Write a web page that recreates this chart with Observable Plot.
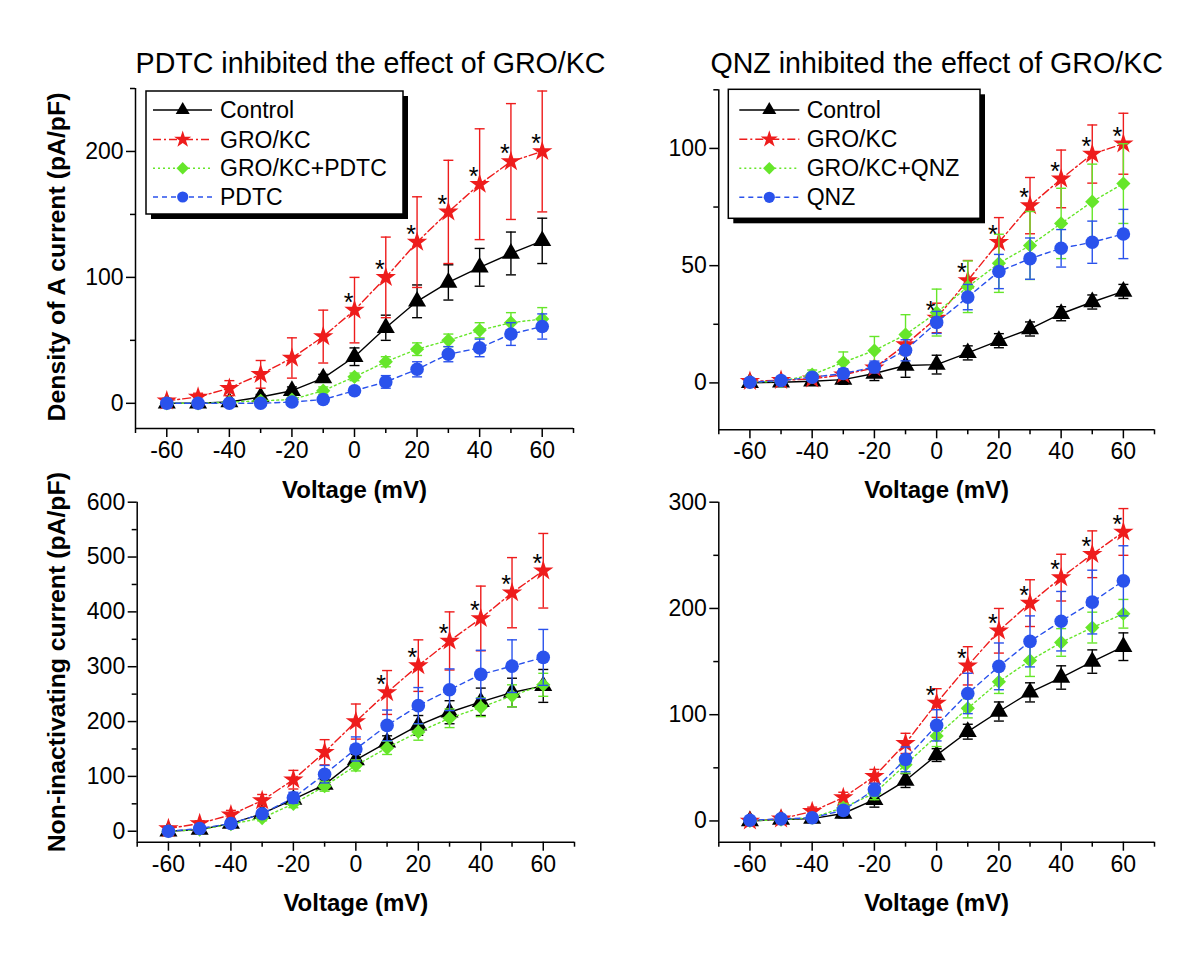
<!DOCTYPE html>
<html>
<head>
<meta charset="utf-8">
<script src="https://cdn.jsdelivr.net/npm/d3@7"></script>
<script src="https://cdn.jsdelivr.net/npm/@observablehq/plot@0.6"></script>
<style>
  body { margin: 0; background: #fff; }
  #wrap { position: relative; width: 1200px; height: 967px; overflow: hidden; background: #fff;
          font-family: "Liberation Sans", Arial, Helvetica, sans-serif; }
  #wrap > svg { position: absolute; }
</style>
</head>
<body>
<div id="wrap"></div>
<script>
// ---------------- data ----------------
const voltage = [-60, -50, -40, -30, -20, -10, 0, 10, 20, 30, 40, 50, 60];

const seriesNamesPDTC = ["Control", "GRO/KC", "GRO/KC+PDTC", "PDTC"];
const seriesNamesQNZ  = ["Control", "GRO/KC", "GRO/KC+QNZ", "QNZ"];

const titlePDTC = "PDTC inhibited the effect of GRO/KC";
const titleQNZ  = "QNZ inhibited the effect of GRO/KC";
const xLabel = "Voltage (mV)";
const yLabelTop = "Density of A current (pA/pF)";
const yLabelBottom = "Non-inactivating current (pA/pF)";

const xDomain = [-70, 70];
const xMajorTicks = [-60, -40, -20, 0, 20, 40, 60];
const xMinorTicks = [-70, -50, -30, -10, 10, 30, 50, 70];

// Panel 1: A current, PDTC
const ctrl1      = [0, 0, 1, 5, 10, 20, 37, 60, 81, 96, 108, 119, 129];
const ctrl1Err   = [1, 1, 1, 2, 3, 3, 7, 10, 13, 14, 15, 17, 18];
const gro1       = [2, 5, 12, 23, 36, 53, 74, 100, 128, 152, 174, 192, 200];
const gro1Err    = [2, 3, 6, 11, 16, 21, 26, 32, 36, 41, 44, 46, 48];
const groPdtc1   = [0, 0, 1, 2, 3, 10, 21, 33, 43, 50, 58, 64, 67];
const groPdtc1Err= [1, 1, 1, 1, 2, 3, 3, 4, 5, 5, 6, 8, 9];
const pdtc1      = [0, 0, 0, 0, 1, 3, 10, 17, 27, 39, 44, 55, 61];
const pdtc1Err   = [1, 1, 1, 1, 2, 2, 3, 5, 6, 6, 7, 9, 10];
const sig1       = [0, 10, 20, 30, 40, 50, 60];
const yDomain1 = [-20, 250], yMajor1 = [0, 100, 200], yMinor1 = [50, 150, 250];

// Panel 2: A current, QNZ
const ctrl2      = [0, 0.3, 0.7, 1.4, 4, 7.4, 7.8, 12.8, 18, 23, 29.5, 34.5, 39];
const ctrl2Err   = [1, 1, 1, 2, 3, 5, 4, 3, 3, 3, 3, 3, 3];
const gro2       = [0.7, 1.1, 1.7, 3.5, 6.4, 16.3, 27.7, 43.7, 60, 75.6, 87, 97.6, 102];
const gro2Err    = [1, 1, 1, 2, 2, 4.3, 6.3, 8.5, 10.5, 12, 12.3, 12.4, 13];
const groQnz2    = [0.3, 0.7, 3.5, 8.8, 13.8, 20.6, 30, 41, 51, 58.6, 68, 77.3, 85];
const groQnz2Err = [1, 1, 2, 4.4, 6, 8.5, 10, 11, 12.4, 14.5, 15, 16, 17];
const qnz2       = [0.3, 1, 2.4, 4, 6.8, 13.9, 25.8, 36.6, 47.5, 53, 57.4, 60, 63.5];
const qnz2Err    = [1, 1, 1, 2, 2.5, 4.5, 4.7, 5.4, 7.3, 8.8, 8, 9, 10.5];
const sig2       = [0, 10, 20, 30, 40, 50, 60];
const yDomain2 = [-20, 125], yMajor2 = [0, 50, 100], yMinor2 = [25, 75, 125];

// Panel 3: non-inactivating, PDTC
const ctrl3      = [0, 3, 14, 32, 58, 85, 130, 162, 193, 217, 236, 253, 265];
const ctrl3Err   = [3, 3, 5, 6, 8, 9, 10, 12, 18, 21, 25, 26, 30];
const gro3       = [5, 14, 30, 56, 94, 144, 200, 253, 302, 347, 388, 435, 475];
const gro3Err    = [4, 5, 8, 11, 17, 23, 32, 40, 47, 53, 59, 64, 68];
const groPdtc3   = [0, 3, 13, 24, 50, 82, 120, 152, 181, 206, 226, 247, 267];
const groPdtc3Err= [2, 3, 4, 5, 7, 9, 10, 12, 15, 17, 17, 20, 21];
const pdtc3      = [0, 5, 14, 32, 61, 104, 150, 193, 229, 258, 286, 301, 317];
const pdtc3Err   = [2, 3, 4, 6, 10, 16, 22, 28, 33, 38, 44, 48, 51];
const sig3       = [10, 20, 30, 40, 50, 60];
const yDomain3 = [-20, 600], yMajor3 = [0, 100, 200, 300, 400, 500, 600], yMinor3 = [50, 150, 250, 350, 450, 550];

// Panel 4: non-inactivating, QNZ
const ctrl4      = [0, 1.3, 2.2, 7, 20, 38, 62, 84, 103, 121, 135, 150, 164];
const ctrl4Err   = [2, 3, 3, 4, 7, 6.5, 6, 7, 9, 9, 11, 11, 13];
const gro4       = [0, 2, 9, 22, 42, 73, 111, 146, 179, 205, 229, 251, 272];
const gro4Err    = [3, 3, 4, 5, 6.5, 9.5, 13.5, 18, 21, 22, 22, 22, 22];
const groQnz4    = [0, 1.3, 3, 12.5, 26, 53, 80, 106, 131, 151, 168, 182, 195];
const groQnz4Err = [2, 2, 3, 4, 6, 8, 10, 9, 11, 15, 13, 14.5, 13.5];
const qnz4       = [0.6, 2, 3, 10, 29.5, 58, 90, 120, 145.5, 169, 188, 206, 226];
const qnz4Err    = [2, 2, 3, 4, 6, 11.6, 14.7, 19, 22, 24, 28, 30, 33];
const sig4       = [0, 10, 20, 30, 40, 50, 60];
const yDomain4 = [-20, 300], yMajor4 = [0, 100, 200, 300], yMinor4 = [50, 150, 250];

// ---------------- styles ----------------
const FONT = '"Liberation Sans", Arial, Helvetica, sans-serif';
const seriesStyle = [
  {symbol: "triangle", d3sym: d3.symbolTriangle, color: "#000000", dash: null,      r: 6.7, lr: 5.2},
  {symbol: "star",     d3sym: d3.symbolStar,     color: "#ee1c1c", dash: "8,3,2,3", r: 6.4, lr: 5.4},
  {symbol: "diamond2", d3sym: d3.symbolDiamond2, color: "#66e62a", dash: "2,3",     r: 6.4, lr: 5.6},
  {symbol: "circle",   d3sym: d3.symbolCircle,   color: "#2a52ec", dash: "5,4",     r: 6.8, lr: 5.6}
];
const capSymbol = {
  draw(context, size) {
    const w = Math.sqrt(size / Math.PI);
    context.moveTo(-w, 0);
    context.lineTo(w, 0);
  }
};

function rowsOf(values, errs) {
  return voltage.map((v, i) => ({v, y: values[i], lo: values[i] - errs[i], hi: values[i] + errs[i]}));
}

const panels = [
  {left: 0, top: 0, width: 600, height: 515, mL: 135, mR: 27, mT: 88, mB: 87,
   yDomain: yDomain1, yMajor: yMajor1, yMinor: yMinor1,
   title: titlePDTC, titleDx: 16, titleDy: -25, xLabelDy: 62,
   yLabel: yLabelTop, yLabelDx: -78, yLabelDy: -1.5,
   data: [[ctrl1, ctrl1Err], [gro1, gro1Err], [groPdtc1, groPdtc1Err], [pdtc1, pdtc1Err]], sig: sig1,
   names: seriesNamesPDTC,
   legend: {x: 146, y: 91, w: 257, h: 123, rows: [110, 139.5, 168.3, 197], lx1: 153, lx2: 212, mx: 182.7, tx: 220}},
  {left: 600, top: 0, width: 600, height: 515, mL: 118.3, mR: 46, mT: 89.3, mB: 85.7,
   yDomain: yDomain2, yMajor: yMajor2, yMinor: yMinor2,
   title: titleQNZ, titleDx: 0, titleDy: -26.3, xLabelDy: 60.7,
   yLabel: null,
   data: [[ctrl2, ctrl2Err], [gro2, gro2Err], [groQnz2, groQnz2Err], [qnz2, qnz2Err]], sig: sig2,
   names: seriesNamesQNZ,
   legend: {x: 728.3, y: 89.3, w: 251.7, h: 129, rows: [110, 139.3, 168.3, 197.3], lx1: 739.3, lx2: 799.3, mx: 769.3, tx: 806.7}},
  {left: 0, top: 440, width: 600, height: 527, mL: 136.7, mR: 26, mT: 61.7, mB: 125.3,
   yDomain: yDomain3, yMajor: yMajor3, yMinor: yMinor3,
   title: null, xLabelDy: 61.3,
   yLabel: yLabelBottom, yLabelDx: -80, yLabelDy: -10,
   data: [[ctrl3, ctrl3Err], [gro3, gro3Err], [groPdtc3, groPdtc3Err], [pdtc3, pdtc3Err]], sig: sig3,
   names: seriesNamesPDTC, legend: null},
  {left: 600, top: 440, width: 600, height: 527, mL: 118.3, mR: 46, mT: 61.7, mB: 125.3,
   yDomain: yDomain4, yMajor: yMajor4, yMinor: yMinor4,
   title: null, xLabelDy: 61.3,
   yLabel: null,
   data: [[ctrl4, ctrl4Err], [gro4, gro4Err], [groQnz4, groQnz4Err], [qnz4, qnz4Err]], sig: sig4,
   names: seriesNamesQNZ, legend: null}
];

const wrap = document.getElementById("wrap");

for (const p of panels) {
  const marks = [];
  // axes
  marks.push(Plot.ruleX([xDomain[0]], {stroke: "black", strokeWidth: 1.5}));
  marks.push(Plot.ruleY([p.yDomain[0]], {stroke: "black", strokeWidth: 1.5}));
  marks.push(Plot.axisX({ticks: xMajorTicks, tickSize: 9, tickPadding: 4, tickFormat: d => String(d), label: null, strokeWidth: 1.5, fontSize: 23}));
  marks.push(Plot.axisX({ticks: xMinorTicks, tickSize: 5, tickFormat: () => "", label: null, strokeWidth: 1.5}));
  marks.push(Plot.axisY({ticks: p.yMajor, tickSize: 9, tickPadding: 3, tickFormat: d => String(d), label: null, strokeWidth: 1.5, fontSize: 23}));
  marks.push(Plot.axisY({ticks: p.yMinor, tickSize: 5, tickFormat: () => "", label: null, strokeWidth: 1.5}));

  // series
  p.data.forEach(([vals, errs], k) => {
    const s = seriesStyle[k];
    const rows = rowsOf(vals, errs);
    const lineOpts = {x: "v", y: "y", stroke: s.color, strokeWidth: 1.4};
    if (s.dash) lineOpts.strokeDasharray = s.dash;
    marks.push(Plot.line(rows, lineOpts));
    marks.push(Plot.ruleX(rows, {x: "v", y1: "lo", y2: "hi", stroke: s.color, strokeWidth: 1.4}));
    marks.push(Plot.dot(rows, {x: "v", y: "hi", symbol: capSymbol, r: 5, stroke: s.color, strokeWidth: 1.4, fill: "none"}));
    marks.push(Plot.dot(rows, {x: "v", y: "lo", symbol: capSymbol, r: 5, stroke: s.color, strokeWidth: 1.4, fill: "none"}));
    marks.push(Plot.dot(rows, {x: "v", y: "y", symbol: s.symbol, r: s.r, fill: s.color}));
  });

  // significance asterisks above the GRO/KC points
  const groVals = p.data[1][0];
  const sigRows = p.sig.map(v => ({v, y: groVals[voltage.indexOf(v)]}));
  marks.push(Plot.text(sigRows, {x: "v", y: "y", text: () => "*", dx: -6, dy: -7.2, fontSize: 25, fill: "black"}));

  // labels
  if (p.title) marks.push(Plot.text([p.title], {frameAnchor: "top", text: d => d, textAnchor: "middle", lineAnchor: "middle",
    dx: p.titleDx, dy: p.titleDy, fontSize: 28.6, fill: "black"}));
  marks.push(Plot.text([xLabel], {frameAnchor: "bottom", text: d => d, textAnchor: "middle", lineAnchor: "middle",
    dy: p.xLabelDy, fontSize: 24, fontWeight: "bold", fill: "black"}));
  if (p.yLabel) marks.push(Plot.text([p.yLabel], {frameAnchor: "left", text: d => d, textAnchor: "middle", lineAnchor: "middle",
    rotate: -90, dx: p.yLabelDx, dy: p.yLabelDy, fontSize: 24.8, fontWeight: "bold", fill: "black"}));

  const svg = Plot.plot({
    width: p.width, height: p.height,
    marginLeft: p.mL, marginRight: p.mR, marginTop: p.mT, marginBottom: p.mB,
    x: {domain: xDomain},
    y: {domain: p.yDomain},
    style: {fontFamily: FONT, fontSize: "23px", background: "transparent", overflow: "visible", color: "black"},
    marks
  });
  svg.style.left = p.left + "px";
  svg.style.top = p.top + "px";
  wrap.appendChild(svg);
}

// ---------------- legends ----------------
const overlay = d3.create("svg")
  .attr("width", 1200).attr("height", 967)
  .style("position", "absolute").style("left", "0px").style("top", "0px")
  .style("font-family", FONT);

for (const p of panels) {
  if (!p.legend) continue;
  const L = p.legend;
  const g = overlay.append("g");
  g.append("rect").attr("x", L.x + 5).attr("y", L.y + 5).attr("width", L.w).attr("height", L.h).attr("fill", "black");
  g.append("rect").attr("x", L.x).attr("y", L.y).attr("width", L.w).attr("height", L.h)
    .attr("fill", "white").attr("stroke", "black").attr("stroke-width", 1.5);
  p.names.forEach((name, k) => {
    const s = seriesStyle[k];
    const yy = L.rows[k];
    g.append("line").attr("x1", L.lx1).attr("x2", L.lx2).attr("y1", yy).attr("y2", yy)
      .attr("stroke", s.color).attr("stroke-width", 1.4)
      .attr("stroke-dasharray", s.dash || null);
    g.append("path").attr("d", d3.symbol(s.d3sym, Math.PI * s.lr * s.lr)())
      .attr("transform", `translate(${L.mx},${yy})`).attr("fill", s.color);
    g.append("text").attr("x", L.tx).attr("y", yy).attr("dy", "0.35em")
      .attr("font-size", 23).attr("fill", "black").text(name);
  });
}
wrap.appendChild(overlay.node());
</script>
</body>
</html>
